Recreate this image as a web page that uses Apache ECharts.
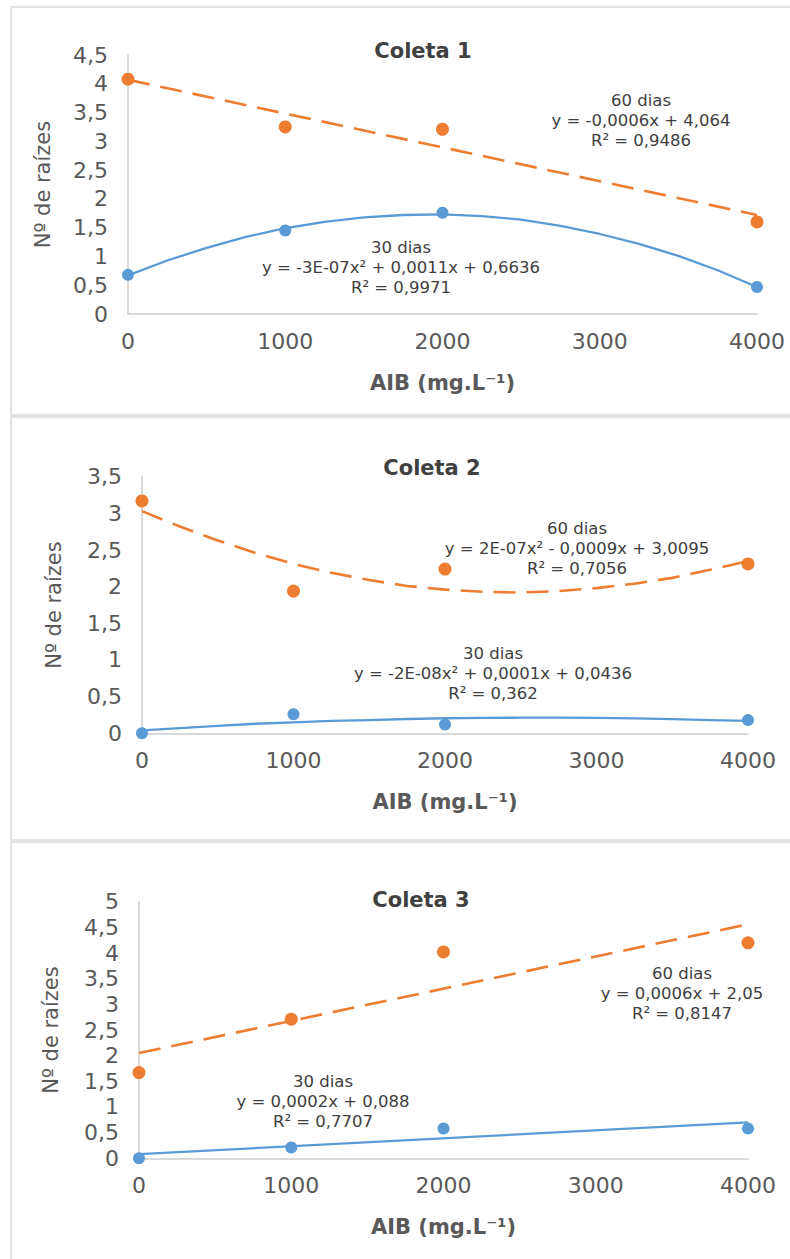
<!DOCTYPE html>
<html>
<head>
<meta charset="utf-8">
<script src="https://cdn.jsdelivr.net/npm/echarts@6/dist/echarts.min.js"></script>
<style>
html,body{margin:0;padding:0;background:#fff;}
#chart{width:790px;height:1259px;}
</style>
</head>
<body>
<div id="chart"></div>
<script>
// ---- data ----
const doses = [0, 1000, 2000, 4000];
const xTicks = [0, 1000, 2000, 3000, 4000];
const titles = ['Coleta 1', 'Coleta 2', 'Coleta 3'];
const yMax = [4.5, 3.5, 5];

const c1_30 = [0.68, 1.45, 1.76, 0.47];
const c1_60 = [4.08, 3.25, 3.21, 1.60];
const c2_30 = [0.00, 0.26, 0.12, 0.18];
const c2_60 = [3.17, 1.94, 2.24, 2.31];
const c3_30 = [0.00, 0.21, 0.58, 0.58];
const c3_60 = [1.67, 2.71, 4.02, 4.20];

// trend lines
const curveX = [0, 250, 500, 750, 1000, 1250, 1500, 1750, 2000, 2250, 2500, 2750, 3000, 3250, 3500, 3750, 4000];
const lineX = [0, 4000];
const c1_30_trend = [0.67, 0.93, 1.15, 1.34, 1.49, 1.60, 1.68, 1.72, 1.73, 1.70, 1.64, 1.53, 1.39, 1.22, 1.01, 0.76, 0.47];
const c1_60_trend = [4.07, 1.72];
const c2_30_trend = [0.04, 0.07, 0.10, 0.13, 0.15, 0.17, 0.18, 0.195, 0.205, 0.21, 0.213, 0.213, 0.21, 0.204, 0.194, 0.181, 0.17];
const c2_60_trend = [3.03, 2.82, 2.63, 2.46, 2.31, 2.19, 2.09, 2.01, 1.96, 1.93, 1.92, 1.94, 1.98, 2.04, 2.12, 2.23, 2.35];
const c3_30_trend = [0.08, 0.70];
const c3_60_trend = [2.05, 4.56];

const eqTexts = [
  ['60 dias\ny = -0,0006x + 4,064\nR² = 0,9486', '30 dias\ny = -3E-07x² + 0,0011x + 0,6636\nR² = 0,9971'],
  ['60 dias\ny = 2E-07x² - 0,0009x + 3,0095\nR² = 0,7056', '30 dias\ny = -2E-08x² + 0,0001x + 0,0436\nR² = 0,362'],
  ['60 dias\ny = 0,0006x + 2,05\nR² = 0,8147', '30 dias\ny = 0,0002x + 0,088\nR² = 0,7707']
];
const yName = 'Nº de raízes';
const xName = 'AIB (mg.L⁻¹)';

// ---- layout ----
const FONT = '"DejaVu Sans", sans-serif';
const ORANGE = '#ED7D31', BLUE = '#5B9BD5', TXT = '#595959', AX = '#D9D9D9';
const grids = [
  {left: 128, right: 33, top: 55, height: 259},
  {left: 142, right: 42, top: 476.7, height: 256.6},
  {left: 139, right: 42, top: 901.7, height: 256.6}
];
const titlePos = [[423, 51], [432, 468], [421, 900]];
const eqPos = [
  [[641, 120], [401, 267]],
  [[577, 548], [493, 673]],
  [[682, 993.5], [323, 1101]]
];
const yNameGap = [75, 78, 78];

const pts = (xs, ys) => xs.map((x, i) => [x, ys[i]]);
const scatterData = [[c1_30, c1_60], [c2_30, c2_60], [c3_30, c3_60]];
const trendData = [
  [pts(curveX, c1_30_trend), pts(lineX, c1_60_trend)],
  [pts(curveX, c2_30_trend), pts(curveX, c2_60_trend)],
  [pts(lineX, c3_30_trend), pts(lineX, c3_60_trend)]
];

const xAxis = [], yAxis = [], series = [], graphic = [];
for (let p = 0; p < 3; p++) {
  xAxis.push({
    type: 'value', gridIndex: p, min: 0, max: 4000, interval: 1000,
    axisLine: {show: true, lineStyle: {color: AX, width: 2}},
    axisTick: {show: false}, splitLine: {show: false},
    axisLabel: {color: TXT, fontSize: 22, fontFamily: FONT, margin: 16,
      formatter: v => String(v)},
    name: xName, nameLocation: 'middle', nameGap: 58,
    nameTextStyle: {color: TXT, fontSize: 21, fontWeight: 'bold', fontFamily: FONT}
  });
  yAxis.push({
    type: 'value', gridIndex: p, min: 0, max: yMax[p], interval: 0.5,
    axisLine: {show: true, lineStyle: {color: AX, width: 2}},
    axisTick: {show: false}, splitLine: {show: false},
    axisLabel: {color: TXT, fontSize: 22, fontFamily: FONT, margin: 20,
      formatter: v => String(v).replace('.', ',')},
    name: yName, nameLocation: 'middle', nameGap: yNameGap[p], nameRotate: 90,
    nameTextStyle: {color: TXT, fontSize: 21, fontFamily: FONT}
  });
  // trend lines
  series.push({
    type: 'line', xAxisIndex: p, yAxisIndex: p, data: trendData[p][0],
    smooth: false, symbol: 'none', z: 2,
    lineStyle: {color: BLUE, width: 2.3, join: 'round'}, silent: true
  });
  series.push({
    type: 'line', xAxisIndex: p, yAxisIndex: p, data: trendData[p][1],
    smooth: false, symbol: 'none', z: 2,
    lineStyle: {color: ORANGE, width: 2.6, type: [22, 11], join: 'round'}, silent: true
  });
  // points
  series.push({
    type: 'scatter', xAxisIndex: p, yAxisIndex: p, data: pts(doses, scatterData[p][0]),
    symbolSize: 12, itemStyle: {color: BLUE, opacity: 1}, z: 3
  });
  series.push({
    type: 'scatter', xAxisIndex: p, yAxisIndex: p, data: pts(doses, scatterData[p][1]),
    symbolSize: 13, itemStyle: {color: ORANGE, opacity: 1}, z: 3
  });
  // title
  graphic.push({
    type: 'text', x: titlePos[p][0], y: titlePos[p][1], z: 10,
    style: {text: titles[p], fill: '#404040', font: 'bold 21px ' + FONT,
      align: 'center', verticalAlign: 'middle'}
  });
  // equation annotations
  for (let k = 0; k < 2; k++) {
    graphic.push({
      type: 'text', x: eqPos[p][k][0], y: eqPos[p][k][1], z: 10,
      style: {text: eqTexts[p][k], fill: '#404040', font: '16.5px ' + FONT,
        lineHeight: 20, align: 'center', verticalAlign: 'middle'}
    });
  }
}
// panel borders / separators
graphic.push({type: 'rect', shape: {x: 10, y: 6, width: 780, height: 2}, style: {fill: '#E3E3E3'}, z: 1});
graphic.push({type: 'rect', shape: {x: 10, y: 414, width: 780, height: 4}, style: {fill: '#E3E3E3'}, z: 1});
graphic.push({type: 'rect', shape: {x: 10, y: 839, width: 780, height: 4}, style: {fill: '#E3E3E3'}, z: 1});
graphic.push({type: 'rect', shape: {x: 10, y: 6, width: 2, height: 1253}, style: {fill: '#E3E3E3'}, z: 1});

const chart = echarts.init(document.getElementById('chart'), null, {renderer: 'svg'});
chart.setOption({
  animation: false,
  backgroundColor: '#ffffff',
  grid: grids,
  xAxis: xAxis,
  yAxis: yAxis,
  series: series,
  graphic: graphic
});
</script>
</body>
</html>
